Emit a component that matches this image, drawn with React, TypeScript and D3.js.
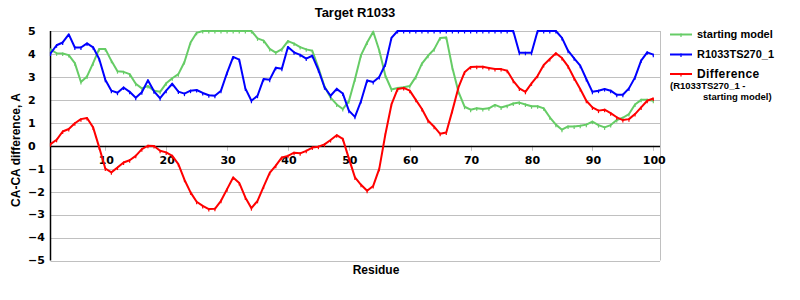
import React from "react";
import * as d3 from "d3";

const residues: number[] = d3.range(1, 101);

const startingModel: number[] = [
  4.2, 4.03, 4.02, 3.95, 3.6, 2.78, 3.02, 3.6, 4.22, 4.22,
  3.7, 3.25, 3.22, 3.12, 2.7, 2.5, 2.6, 2.4, 2.35, 2.72,
  2.94, 3.12, 3.65, 4.5, 4.92, 5.0, 5.0, 5.0, 5.0, 5.0,
  5.0, 5.0, 5.0, 5.0, 4.68, 4.58, 4.22, 4.06, 4.21, 4.56,
  4.45, 4.3, 4.2, 4.14, 3.4, 2.58, 2.1, 1.8, 1.6, 1.94,
  2.9, 3.95, 4.5, 4.97, 4.15, 3.05, 2.45, 2.52, 2.55, 2.6,
  3.0, 3.58, 3.92, 4.2, 4.7, 4.72, 3.4, 2.35, 1.7, 1.57,
  1.63, 1.6, 1.63, 1.78, 1.67, 1.74, 1.84, 1.88, 1.8, 1.72,
  1.72, 1.63, 1.24, 0.92, 0.7, 0.84, 0.84, 0.87, 0.92, 1.05,
  0.9, 0.8, 0.9, 1.12, 1.22, 1.38, 1.8, 2.0, 2.0, 1.96,
];

const modelTS270: number[] = [
  4.02, 4.38, 4.5, 4.85, 4.28, 4.28, 4.46, 4.29, 3.78, 2.88,
  2.4, 2.31, 2.54, 2.35, 2.09, 2.33, 2.85, 2.37, 2.07, 2.4,
  2.7, 2.36, 2.27, 2.4, 2.43, 2.3, 2.2, 2.18, 2.4, 3.18,
  3.87, 3.75, 2.5, 1.96, 2.18, 2.91, 2.88, 3.4, 3.36, 4.3,
  4.07, 3.96, 3.8, 3.92, 3.3, 2.55, 2.18, 2.48, 2.28, 1.53,
  1.26, 1.95, 2.84, 2.78, 3.0, 3.55, 4.7, 5.0, 5.0, 5.0,
  5.0, 5.0, 5.0, 5.0, 5.0, 5.0, 5.0, 5.0, 5.0, 5.0,
  5.0, 5.0, 5.0, 5.0, 5.0, 5.0, 5.0, 4.05, 4.05, 4.05,
  5.0, 5.0, 5.0, 5.0, 4.7, 4.14, 3.81, 3.49, 2.91, 2.35,
  2.4, 2.47, 2.4, 2.22, 2.22, 2.5, 2.98, 3.71, 4.07, 3.97,
];

const difference: number[] = [
  0.07, 0.26, 0.62, 0.73, 0.98, 1.16, 1.21, 0.8, -0.07, -0.99,
  -1.16, -0.95, -0.73, -0.63, -0.44, -0.15, 0.0, -0.01, -0.22, -0.29,
  -0.44, -0.8, -1.48, -2.03, -2.44, -2.62, -2.76, -2.75, -2.4, -1.89,
  -1.38, -1.62, -2.25, -2.72, -2.4, -1.78, -1.18, -0.87, -0.51, -0.44,
  -0.3, -0.33, -0.22, -0.08, -0.04, 0.06, 0.25, 0.46, 0.3, -0.55,
  -1.38, -1.7, -1.96, -1.75, -1.0, 0.5, 1.8, 2.47, 2.52, 2.4,
  2.0, 1.6, 1.1, 0.83, 0.52, 0.58, 1.53, 2.54, 3.2, 3.43,
  3.44, 3.44, 3.39, 3.34, 3.34, 3.27, 2.83, 2.5, 2.35, 2.72,
  3.05, 3.52, 3.78, 4.03, 3.82, 3.46, 2.94, 2.47, 1.96, 1.67,
  1.53, 1.57, 1.42, 1.24, 1.12, 1.16, 1.38, 1.67, 1.96, 2.06,
];

const yTicks: number[] = [5, 4, 3, 2, 1, 0, -1, -2, -3, -4, -5];
const xTicks: number[] = [10, 20, 30, 40, 50, 60, 70, 80, 90, 100];

const seriesNames: string[] = ["starting model", "R1033TS270_1", "Difference"];
const seriesColors: string[] = ["#66cc66", "#0000ff", "#ff0000"];

export default function App() {
  const x = d3.scaleLinear().domain([1, 101.1]).range([50.5, 660]);
  const y = d3.scaleLinear().domain([-5, 5]).range([260.5, 31]);
  const line = d3
    .line<number>()
    .x((_, i) => x(residues[i]))
    .y((d) => y(d));

  const allSeries = [startingModel, modelTS270, difference];
  const tickFont = "'DejaVu Sans', Verdana, sans-serif";
  const arial = "'Liberation Sans', Arial, sans-serif";

  return (
    <svg
      width={800}
      height={300}
      style={{ position: "absolute", left: 0, top: 0, background: "#fff" }}
    >
      <rect x={0} y={0} width={800} height={300} fill="#fff" />
      {/* grid */}
      {yTicks.map((t) => (
        <line
          key={"g" + t}
          x1={x(1)}
          x2={660}
          y1={Math.round(y(t)) + 0.5}
          y2={Math.round(y(t)) + 0.5}
          stroke="#c0c0c0"
          strokeWidth={1}
        />
      ))}
      <line x1={660.5} x2={660.5} y1={y(5)} y2={y(-5)} stroke="#c0c0c0" />
      {/* x ticks */}
      {xTicks.map((t) => (
        <line
          key={"xt" + t}
          x1={Math.round(x(t)) + 0.5}
          x2={Math.round(x(t)) + 0.5}
          y1={y(0)}
          y2={y(0) + 5}
          stroke="#c0c0c0"
        />
      ))}
      {/* axes */}
      <line
        x1={x(1)}
        x2={660}
        y1={Math.round(y(0)) + 0.5}
        y2={Math.round(y(0)) + 0.5}
        stroke="#000"
        strokeWidth={1.5}
      />
      <line x1={x(1)} x2={x(1)} y1={y(5)} y2={y(-5)} stroke="#000" strokeWidth={1.5} />
      {/* y tick labels */}
      {yTicks.map((t) => (
        <text
          key={"yl" + t}
          x={28}
          y={y(t)}
          dy="0.35em"
          fontFamily={tickFont}
          fontWeight="bold"
          fontSize={11}
          fill="#000"
        >
          {t < 0 ? "\u2212" + Math.abs(t) : String(t)}
        </text>
      ))}
      {/* x tick labels */}
      {xTicks.map((t) => (
        <text
          key={"xl" + t}
          x={x(t) + 1}
          y={y(0) + 14}
          dy="0.35em"
          textAnchor="middle"
          fontFamily={tickFont}
          fontWeight="bold"
          fontSize={11}
          fill="#000"
        >
          {t}
        </text>
      ))}
      {/* series */}
      {allSeries.map((s, k) => (
        <g key={"s" + k}>
          <path d={line(s) || ""} fill="none" stroke={seriesColors[k]} strokeWidth={2} strokeLinejoin="round" />
          {s.map((v, i) => (
            <line
              key={i}
              x1={x(residues[i])}
              x2={x(residues[i])}
              y1={y(v) - 1}
              y2={y(v) + 2.5}
              stroke={seriesColors[k]}
              strokeWidth={1.2}
            />
          ))}
        </g>
      ))}
      {/* title */}
      <text
        x={355}
        y={12}
        dy="0.35em"
        textAnchor="middle"
        fontFamily="'Liberation Sans Narrow', 'Liberation Sans', Arial, sans-serif"
        fontWeight="bold"
        fontSize={13}
        fill="#000"
      >
        Target R1033
      </text>
      {/* axis titles */}
      <text
        transform={`translate(16,150) rotate(-90)`}
        dy="0.35em"
        textAnchor="middle"
        fontFamily={arial}
        fontWeight="bold"
        fontSize={12}
        fill="#000"
      >
        CA-CA difference, A
      </text>
      <text
        x={376}
        y={270}
        dy="0.35em"
        textAnchor="middle"
        fontFamily={arial}
        fontWeight="bold"
        fontSize={12}
        fill="#000"
      >
        Residue
      </text>
      {/* legend */}
      {seriesNames.map((n, k) => {
        const ly = [34.5, 54.5, 74][k];
        return (
          <g key={"lg" + k}>
            <line x1={670} x2={692} y1={ly} y2={ly} stroke={seriesColors[k]} strokeWidth={2} />
            <line x1={681} x2={681} y1={ly - 1} y2={ly + 2.5} stroke={seriesColors[k]} strokeWidth={1.2} />
            <text
              x={697}
              y={ly}
              dy="0.35em"
              fontFamily={arial}
              fontWeight="bold"
              fontSize={k === 2 ? 12 : 11}
              letterSpacing={k === 2 ? 0.4 : 0}
              fill="#000"
            >
              {n}
            </text>
          </g>
        );
      })}
      <text x={670} y={86} dy="0.35em" fontFamily={arial} fontWeight="bold" fontSize={9.5} fill="#000">
        (R1033TS270_1 -
      </text>
      <text x={703} y={97} dy="0.35em" fontFamily={arial} fontWeight="bold" fontSize={9.5} fill="#000">
        starting model)
      </text>
    </svg>
  );
}
